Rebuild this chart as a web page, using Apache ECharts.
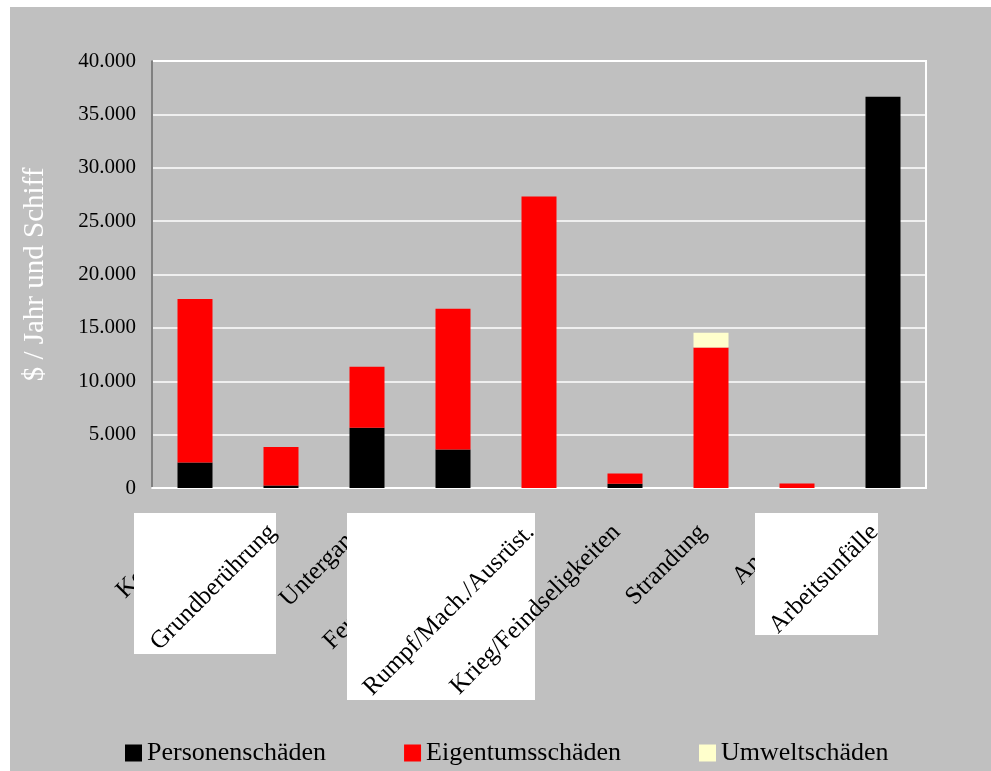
<!DOCTYPE html>
<html>
<head>
<meta charset="utf-8">
<script src="https://cdn.jsdelivr.net/npm/echarts@6/dist/echarts.min.js"></script>
<style>
  html, body { margin: 0; padding: 0; background: #fff; }
  #main { position: absolute; left: 10px; top: 7px; width: 981px; height: 764px; background: #c0c0c0; }
</style>
</head>
<body>
<div id="main"></div>
<script>
// Kategorien und Werte ($ / Jahr und Schiff)
const categories = ["Kollision", "Grundberührung", "Untergang", "Feuer/Explosion",
  "Rumpf/Mach./Ausrüst.", "Krieg/Feindseligkeiten", "Strandung", "Andere", "Arbeitsunfälle"];
const personenschaeden = [2400, 230, 5650, 3600, 0, 400, 0, 0, 36650];
const eigentumsschaeden = [15300, 3620, 5700, 13200, 27300, 950, 13150, 420, 0];
const umweltschaeden = [0, 0, 0, 0, 0, 0, 1400, 0, 0];
// Beschriftungen, die über den weißen Kästen liegen
const topLabels = ["Grundberührung", "Rumpf/Mach./Ausrüst.", "Krieg/Feindseligkeiten", "Arbeitsunfälle"];

const font = "'Liberation Serif', 'Times New Roman', serif";

function deFormat(v) {
  return String(v).replace(/\B(?=(\d{3})+(?!\d))/g, ".");
}

const labelBase = {
  rotate: 45,
  interval: 0,
  margin: 32,
  padding: [0, 12, 0, 0],
  color: "#000",
  fontSize: 25,
  fontFamily: font
};

let myChart = echarts.init(document.getElementById("main"));
myChart.setOption({
  animation: false,
  backgroundColor: "#c0c0c0",
  grid: {
    left: 142,
    top: 54,
    right: 65,
    bottom: 283,
    outerBoundsMode: "none",
    containLabel: false,
    show: true,
    borderColor: "#ffffff",
    borderWidth: 2,
    backgroundColor: "transparent"
  },
  legend: {
    left: 110,
    top: 728,
    itemWidth: 17,
    itemHeight: 17,
    itemGap: 78,
    icon: "rect",
    textStyle: { color: "#000", fontSize: 26, fontFamily: font },
    data: ["Personenschäden", "Eigentumsschäden", "Umweltschäden"]
  },
  xAxis: [
    {
      type: "category",
      data: categories,
      z: 1,
      axisLine: { lineStyle: { color: "#ffffff", width: 2 } },
      axisTick: { show: false },
      axisLabel: Object.assign({}, labelBase, {
        formatter: v => (topLabels.includes(v) ? "" : v)
      })
    },
    {
      type: "category",
      data: categories,
      position: "bottom",
      z: 10,
      axisLine: { show: false },
      axisTick: { show: false },
      splitLine: { show: false },
      axisLabel: Object.assign({}, labelBase, {
        formatter: v => (topLabels.includes(v) ? v : "")
      })
    }
  ],
  yAxis: {
    type: "value",
    min: 0,
    max: 40000,
    interval: 5000,
    name: "$ / Jahr und Schiff",
    nameLocation: "middle",
    nameGap: 102,
    nameTextStyle: { color: "#ffffff", fontSize: 29, fontFamily: font },
    axisLine: { show: true, lineStyle: { color: "#808080", width: 2 } },
    axisTick: { show: false },
    splitLine: { lineStyle: { color: "#ffffff", width: 1.5 } },
    axisLabel: {
      color: "#000",
      fontSize: 21,
      fontFamily: font,
      margin: 16,
      formatter: deFormat
    }
  },
  graphic: [
    { type: "rect", z: 5, shape: { x: 124, y: 506, width: 142, height: 141 }, style: { fill: "#ffffff" } },
    { type: "rect", z: 5, shape: { x: 337, y: 506, width: 188, height: 187 }, style: { fill: "#ffffff" } },
    { type: "rect", z: 5, shape: { x: 745, y: 506, width: 123, height: 122 }, style: { fill: "#ffffff" } }
  ],
  series: [
    {
      name: "Personenschäden",
      type: "bar",
      stack: "gesamt",
      barWidth: 35,
      itemStyle: { color: "#000000" },
      data: personenschaeden
    },
    {
      name: "Eigentumsschäden",
      type: "bar",
      stack: "gesamt",
      barWidth: 35,
      itemStyle: { color: "#ff0000" },
      data: eigentumsschaeden
    },
    {
      name: "Umweltschäden",
      type: "bar",
      stack: "gesamt",
      barWidth: 35,
      itemStyle: { color: "#ffffcc" },
      data: umweltschaeden
    }
  ]
});
</script>
</body>
</html>
